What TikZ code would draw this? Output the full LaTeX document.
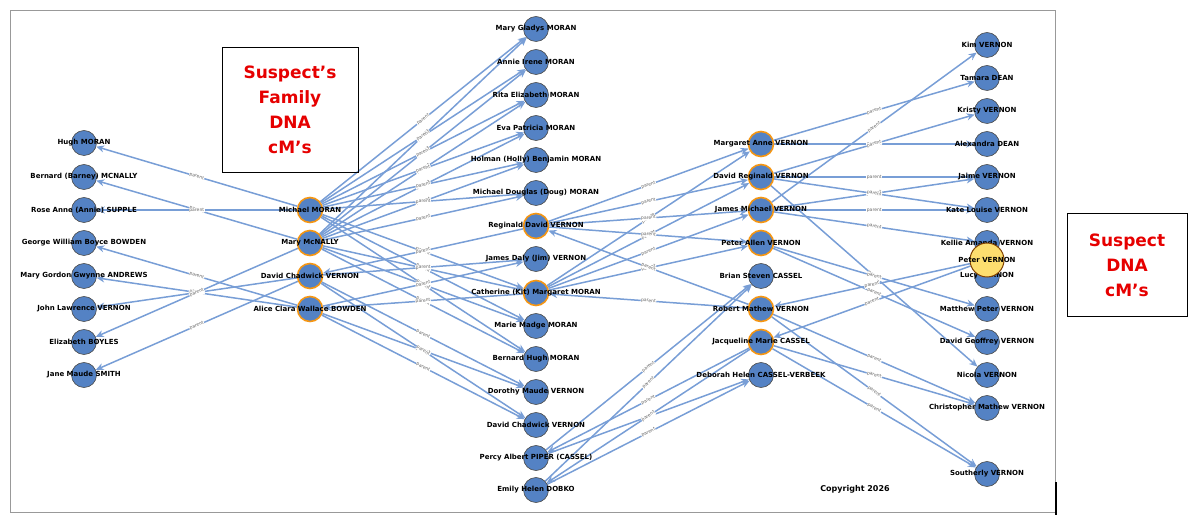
\documentclass[tikz,border=0pt]{standalone}
\usepackage{fontspec}
\setmainfont{DejaVu Sans}
\usetikzlibrary{arrows.meta, positioning}
\definecolor{nodeblue}{RGB}{84,130,196}
\definecolor{edgeblue}{RGB}{120,158,214}
\definecolor{ringorange}{RGB}{245,150,20}
\definecolor{titlered}{RGB}{230,0,0}
\pgfdeclarelayer{edges}
\pgfsetlayers{edges,main}

\tikzset{
    person/.style={circle, minimum size=25pt, inner sep=0pt, fill=nodeblue, draw=black!70, line width=0.6pt},
    key/.style={person, draw=ringorange, line width=1.6pt},
    suspect/.style={circle, minimum size=34pt, inner sep=0pt, fill=yellow!60!orange!55, draw=black!50!orange, line width=1pt},
    rel/.style={draw=edgeblue, line width=1.5pt, -{Stealth[length=8pt,width=7pt]}},
    relname/.style={midway, sloped, font=\fontsize{4.5}{4.5}\selectfont, text=black!60, fill=white, inner sep=0.4pt},
    who/.style={font=\bfseries\fontsize{7}{8}\selectfont},
    note/.style={draw, line width=0.8pt, align=center, font=\bfseries\fontsize{17}{25}\selectfont, text=titlered}
}

\begin{document}
\begin{tikzpicture}[x=1pt, y=-1pt]
        \useasboundingbox (0,0) rectangle (1194,518);
        \draw[black!40] (10,10) rectangle (1055,512);
        \draw[line width=1.4pt] (1056,482) -- (1056,515);

        % Grandparents
        \foreach \n/\y/\t in {hugh/143/Hugh MORAN, barney/177/Bernard (Barney) MCNALLY, annie/210/Rose Anne (Annie) SUPPLE, george/243/George William Boyce BOWDEN, gwynne/276/Mary Gordon Gwynne ANDREWS, johnl/309/John Lawrence VERNON, boyles/342/Elizabeth BOYLES, jane/375/Jane Maude SMITH} {
            \node[person, label={[who]center:\t}] (\n) at (84,\y) {};
        }

        % Parents
        \foreach \n/\y/\t in {michael/210/Michael MORAN, mary/243/Mary McNALLY, davidc/276/David Chadwick VERNON, alice/309/Alice Clara Wallace BOWDEN} {
            \node[key, label={[who]center:\t}] (\n) at (310,\y) {};
        }

        % Middle generation
        \foreach \n/\y/\t in {gladys/29/Mary Gladys MORAN, irene/62/Annie Irene MORAN, rita/95/Rita Elizabeth MORAN, eva/128/Eva Patricia MORAN, holly/160/Holman (Holly) Benjamin MORAN, doug/193/Michael Douglas (Doug) MORAN, jim/259/James Daly (Jim) VERNON, madge/326/Marie Madge MORAN, bhugh/359/Bernard Hugh MORAN, dorothy/392/Dorothy Maude VERNON, davidc2/425/David Chadwick VERNON, percy/458/Percy Albert PIPER (CASSEL), emily/490/Emily Helen DOBKO} {
            \node[person, label={[who]center:\t}] (\n) at (536,\y) {};
        }
        \node[key, label={[who]center:Reginald David VERNON}] (reginald) at (536,226) {};
        \node[key, label={[who]center:Catherine (Kit) Margaret MORAN}] (kit) at (536,293) {};

        % Children
        \foreach \n/\y/\t in {margaret/144/Margaret Anne VERNON, davidr/177/David Reginald VERNON, jamesm/210/James Michael VERNON, petera/243/Peter Allen VERNON, robert/309/Robert Mathew VERNON, jacqueline/342/Jacqueline Marie CASSEL} {
            \node[key, label={[who]center:\t}] (\n) at (761,\y) {};
        }
        \node[person, label={[who]center:Brian Steven CASSEL}] (brian) at (761,276) {};
        \node[person, label={[who]center:Deborah Helen CASSEL-VERBEEK}] (deborah) at (761,375) {};

        % Grandchildren
        \foreach \n/\y/\t in {kim/45/Kim VERNON, tamara/78/Tamara DEAN, kristy/111/Kristy VERNON, alexandra/144/Alexandra DEAN, jaime/177/Jaime VERNON, kate/210/Kate Louise VERNON, kellie/243/Kellie Amanda VERNON, lucy/276/Lucy VERNON, matthew/309/Matthew Peter VERNON, geoffrey/342/David Geoffrey VERNON, nicola/375/Nicola VERNON, christopher/408/Christopher Mathew VERNON, southerly/474/Southerly VERNON} {
            \node[person, label={[who]center:\t}] (\n) at (987,\y) {};
        }
        \node[suspect, label={[who]center:Peter VERNON}] (peter) at (987,260) {};

        % Parent links
        \begin{pgfonlayer}{edges}
        \foreach \a/\b in {michael/hugh, mary/barney, michael/annie, alice/george, alice/gwynne, davidc/johnl, mary/boyles, davidc/jane,
            michael/gladys, mary/gladys, michael/irene, mary/irene, michael/rita, mary/rita, michael/eva, mary/eva, michael/holly, mary/holly, michael/doug, mary/doug,
            michael/kit, mary/kit, michael/madge, mary/madge, michael/bhugh, mary/bhugh,
            davidc/jim, alice/jim, davidc/dorothy, alice/dorothy, davidc/davidc2, alice/davidc2, reginald/davidc, kit/alice,
            reginald/margaret, kit/margaret, reginald/davidr, kit/davidr, reginald/jamesm, kit/jamesm, reginald/petera, kit/petera, robert/reginald, robert/kit,
            percy/brian, emily/brian, percy/deborah, emily/deborah, jacqueline/percy, jacqueline/emily,
            margaret/tamara, margaret/alexandra, jamesm/kim, davidr/kristy, davidr/jaime, jamesm/jaime, davidr/kate, jamesm/kate, jamesm/kellie, davidr/nicola,
            petera/matthew, petera/geoffrey, peter/robert, peter/jacqueline, robert/christopher, jacqueline/christopher, robert/southerly, jacqueline/southerly} {
            \draw[rel] (\a) -- node[relname] {parent} (\b);
        }
        \end{pgfonlayer}

        % Notes
        \node[note, minimum width=136pt, minimum height=125pt] (familynote) at (290,110) {Suspect's\\Family\\DNA\\cM's};
        \node[note, minimum width=120pt, minimum height=103pt] (suspectnote) at (1127,265) {Suspect\\DNA\\cM's};
        \node[font=\bfseries\fontsize{8}{9}\selectfont] (copyright) at (855,489) {Copyright 2026};
    \end{tikzpicture}
\end{document}
